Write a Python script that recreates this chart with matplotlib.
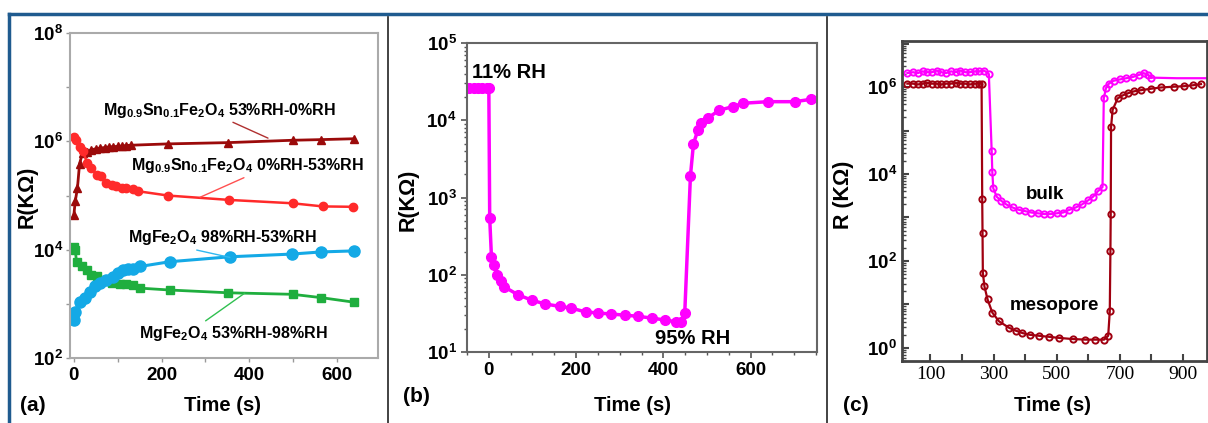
import matplotlib
matplotlib.use("Agg")
import matplotlib.pyplot as plt
from matplotlib.lines import Line2D
from matplotlib.ticker import FixedLocator, FixedFormatter, MultipleLocator

plt.rcParams["font.family"] = ["Liberation Sans", "DejaVu Sans"]
plt.rcParams["font.weight"] = "bold"
plt.rcParams["mathtext.fontset"] = "custom"
plt.rcParams["mathtext.rm"] = "Liberation Sans:bold"
plt.rcParams["mathtext.bf"] = "Liberation Sans:bold"
plt.rcParams["mathtext.default"] = "bf"

# === (a) MgFe2O4 / Mg0.9Sn0.1Fe2O4 ===
a_tri_t = [0, 3, 8, 13, 20, 30, 40, 50, 60, 70, 80, 90, 100, 110, 120, 130, 215, 352, 499, 565, 639]
a_tri_r = [4.4e4, 7.8e4, 1.35e5, 3.9e5, 6.2e5, 6.5e5, 7.0e5, 7.3e5, 7.5e5, 7.7e5, 7.9e5, 8.0e5,
           8.1e5, 8.2e5, 8.4e5, 8.5e5, 9.0e5, 9.5e5, 1.05e6, 1.08e6, 1.12e6]
a_red_t = [0, 5, 14, 21, 30, 40, 52, 63, 74, 86, 97, 109, 120, 135, 147, 215, 355, 499, 568, 636]
a_red_r = [1.2e6, 1.05e6, 8e5, 6.6e5, 4e5, 3.2e5, 2.4e5, 2.3e5, 1.7e5, 1.6e5, 1.5e5, 1.4e5,
           1.4e5, 1.3e5, 1.2e5, 1.0e5, 8.3e4, 7.2e4, 6.3e4, 6.2e4]
a_grn_t = [0, 3, 6, 18, 29, 40, 52, 67, 86, 105, 120, 135, 151, 219, 352, 499, 565, 640]
a_grn_r = [1.1e4, 1.0e4, 6.0e3, 5.1e3, 4.2e3, 3.4e3, 3.2e3, 2.8e3, 2.4e3, 2.3e3, 2.3e3, 2.2e3,
           1.95e3, 1.8e3, 1.6e3, 1.5e3, 1.3e3, 1.07e3]
a_blu_t = [0, 2, 14, 25, 37, 48, 59, 74, 90, 101, 113, 124, 135, 151, 219, 356, 497, 565, 639]
a_blu_r = [500, 720, 1100, 1260, 1660, 2100, 2400, 2750, 3150, 3700, 4200, 4400, 4400, 4900,
           6000, 7400, 8300, 9100, 9500]

# === (b) 11% RH <-> 95% RH ===
b_t = [-45, -35, -25, -15, -5, 0, 2, 6, 11, 19, 27, 35, 67, 98, 128, 162, 189, 222, 251, 281,
       312, 342, 373, 403, 430, 441, 449, 462, 469, 479, 486, 502, 528, 559, 582, 640, 701, 739]
b_r = [2.6e4, 2.6e4, 2.6e4, 2.6e4, 2.6e4, 2.6e4, 540, 170, 135, 100, 82, 70, 55, 47, 42, 39, 37,
       33, 32, 31, 30, 29, 27.5, 26, 24.6, 24.6, 32, 1900, 5000, 7400, 9100, 10700, 13500, 15000,
       16600, 17400, 17400, 18700]

# === (c) bulk vs mesopore ===
c_bulk_t = [27, 45, 60, 75, 90, 105, 120, 135, 150, 165, 180, 195, 210, 225, 240, 255, 270, 285,
            294, 296, 299, 310, 325, 340, 360, 380, 400, 420, 440, 460, 480, 500, 520, 540, 560,
            580, 600, 615, 630, 645, 649, 656, 665, 680, 700, 720, 740, 760, 775, 790, 800]
c_bulk_r = [2.1e6, 2.2e6, 2.1e6, 2.3e6, 2.2e6, 2.2e6, 2.4e6, 2.2e6, 2.1e6, 2.3e6, 2.2e6, 2.4e6,
            2.2e6, 2.2e6, 2.3e6, 2.3e6, 2.4e6, 2.0e6, 3.3e4, 1.1e4, 4.7e3, 3.0e3, 2.4e3, 2.0e3,
            1.7e3, 1.5e3, 1.4e3, 1.3e3, 1.25e3, 1.2e3, 1.2e3, 1.25e3, 1.3e3, 1.5e3, 1.7e3, 2.0e3,
            2.5e3, 3.0e3, 4.0e3, 5.0e3, 5.5e5, 9.5e5, 1.2e6, 1.4e6, 1.5e6, 1.6e6, 1.7e6, 1.9e6,
            2.1e6, 1.9e6, 1.65e6]
c_bulk_tail_t = [800, 880, 975]
c_bulk_tail_r = [1.65e6, 1.6e6, 1.6e6]
c_meso_t = [27, 45, 60, 75, 90, 105, 120, 135, 150, 165, 180, 195, 210, 225, 240, 255, 262,
            264, 265, 266, 271, 281, 296, 317, 349, 370, 391, 415, 444, 475, 507, 550, 591, 620,
            650, 663, 668, 670, 671, 672, 677, 693, 710, 725, 745, 767, 800, 830, 870, 904, 930, 957]
c_meso_r = [1.2e6, 1.2e6, 1.15e6, 1.2e6, 1.25e6, 1.2e6, 1.2e6, 1.15e6, 1.2e6, 1.2e6, 1.25e6,
            1.2e6, 1.2e6, 1.15e6, 1.2e6, 1.2e6, 1.2e6, 2.6e3, 4.4e2, 54, 26, 13, 6.5, 4.1, 2.9,
            2.5, 2.2, 2.0, 1.9, 1.8, 1.7, 1.6, 1.55, 1.55, 1.55, 1.9, 7, 170, 1.2e3, 1.2e5, 3e5,
            5.5e5, 6.5e5, 7.2e5, 8.0e5, 8.5e5, 9.2e5, 9.8e5, 1.02e6, 1.05e6, 1.1e6, 1.17e6]

fig = plt.figure(figsize=(12.08, 4.23), dpi=100)

# frame around the composite
blue = "#1f5b8f"
fig.add_artist(Line2D([0.0075, 1.0], [0.967, 0.967], color=blue, lw=2.5, transform=fig.transFigure))
fig.add_artist(Line2D([0.0075, 0.0075], [0.0, 0.967], color=blue, lw=2.5, transform=fig.transFigure))
for xd in [0.3215, 0.6845]:
    fig.add_artist(Line2D([xd, xd], [0.0, 0.96], color="#222222", lw=1.2, transform=fig.transFigure))


def log_labels(ax, exps, shown):
    ax.yaxis.set_major_locator(FixedLocator([10.0 ** e for e in exps]))
    ax.yaxis.set_major_formatter(FixedFormatter(
        [r"$\mathbf{10^{%d}}$" % e if e in shown else "" for e in exps]))


# ---------- (a) ----------
ax = fig.add_axes([0.0579, 0.1537, 0.255, 0.768])
ax.plot(a_tri_t, a_tri_r, color="#9b0a0a", marker="^", ms=6, lw=2)
ax.plot(a_red_t, a_red_r, color="#ff2a2a", marker="o", ms=6, lw=1.8)
ax.plot(a_grn_t, a_grn_r, color="#1fae3e", marker="s", ms=6, lw=2)
ax.plot(a_blu_t, a_blu_r, color="#14a9e6", marker="o", ms=8, lw=2.2)
ax.set_yscale("log")
ax.set_ylim(1e2, 1e8)
ax.set_xlim(-9, 694)
log_labels(ax, [2, 3, 4, 5, 6, 7, 8], [2, 4, 6, 8])
ax.yaxis.set_minor_locator(FixedLocator([]))
ax.xaxis.set_major_locator(MultipleLocator(200))
ax.xaxis.set_minor_locator(MultipleLocator(100))
ax.tick_params(axis="both", which="both", direction="out", length=3, color="#999999", width=1)
ax.tick_params(axis="y", which="major", pad=2)
for lab in ax.get_xticklabels() + ax.get_yticklabels():
    lab.set_fontsize(13.5)
    lab.set_fontweight("bold")
for s in ax.spines.values():
    s.set_color("#aaaaaa")
    s.set_linewidth(1.5)

ann = dict(fontsize=11.5, fontweight="bold", ha="center", va="center")
ax.annotate(r"Mg$_{0.9}$Sn$_{0.1}$Fe$_2$O$_4$ 53%RH-0%RH", xy=(443, 1.15e6), xytext=(333, 3.8e6),
            arrowprops=dict(arrowstyle="-", color="#b03030", lw=1, relpos=(0.53, 0.0),
                            shrinkA=0, shrinkB=0), **ann)
ax.annotate(r"Mg$_{0.9}$Sn$_{0.1}$Fe$_2$O$_4$ 0%RH-53%RH", xy=(288, 9.3e4), xytext=(397, 3.6e5),
            arrowprops=dict(arrowstyle="-", color="#ff5050", lw=1, relpos=(0.51, 0.0),
                            shrinkA=0, shrinkB=0), **ann)
ax.annotate(r"MgFe$_2$O$_4$ 98%RH-53%RH", xy=(356, 7.2e3), xytext=(338, 1.66e4),
            arrowprops=dict(arrowstyle="-", color="#30b8f0", lw=1, relpos=(0.3, 0.0),
                            shrinkA=0, shrinkB=0), **ann)
ax.annotate(r"MgFe$_2$O$_4$ 53%RH-98%RH", xy=(390, 1.58e3), xytext=(365, 288),
            arrowprops=dict(arrowstyle="-", color="#30c050", lw=1, relpos=(0.33, 1.0),
                            shrinkA=0, shrinkB=0), **ann)

# ---------- (b) ----------
bx = fig.add_axes([0.3866, 0.1678, 0.2897, 0.7305])
bx.plot(b_t, b_r, color="#ff00ff", marker="o", ms=7, lw=2.5)
bx.set_yscale("log")
bx.set_ylim(1e1, 1e5)
bx.set_xlim(-50, 752)
log_labels(bx, [1, 2, 3, 4, 5], [1, 2, 3, 4, 5])
bx.xaxis.set_major_locator(MultipleLocator(200))
bx.xaxis.set_minor_locator(MultipleLocator(50))
bx.tick_params(axis="both", which="both", direction="out", color="#555555")
bx.tick_params(axis="both", which="major", length=4, width=1.2)
bx.tick_params(axis="both", which="minor", length=2.5, width=1)
for lab in bx.get_xticklabels() + bx.get_yticklabels():
    lab.set_fontsize(13.5)
    lab.set_fontweight("bold")
for s in bx.spines.values():
    s.set_color("#666666")
    s.set_linewidth(1.5)
bx.text(-39, 4.1e4, "11% RH", fontsize=14.5, fontweight="bold", ha="left", va="center")
bx.text(380, 15, "95% RH", fontsize=14.5, fontweight="bold", ha="left", va="center")

# ---------- (c) ----------
cx = fig.add_axes([0.7467, 0.1466, 0.2525, 0.7565])
cx.plot(c_bulk_t, c_bulk_r, color="#ff00ff", marker="o", ms=4.5, mfc="none", mew=1.4, lw=1.6)
cx.plot(c_bulk_tail_t, c_bulk_tail_r, color="#ff00ff", lw=1.6)
cx.plot(c_meso_t, c_meso_r, color="#a00010", marker="o", ms=4.5, mfc="none", mew=1.4, lw=1.6)
cx.set_yscale("log")
cx.set_ylim(0.5, 1.15e7)
cx.set_xlim(10, 976)
log_labels(cx, [0, 1, 2, 3, 4, 5, 6, 7], [0, 2, 4, 6])
cx.yaxis.set_minor_locator(FixedLocator(
    [m * 10.0 ** e for e in range(-1, 8) for m in range(2, 10)]))
cx.yaxis.set_minor_formatter(FixedFormatter([]))
cx.xaxis.set_major_locator(MultipleLocator(200, offset=100))
cx.xaxis.set_minor_locator(MultipleLocator(100))
cx.tick_params(axis="both", which="both", direction="in", color="#444444")
cx.tick_params(axis="both", which="major", length=5, width=1.5)
cx.tick_params(axis="both", which="minor", length=3, width=1)
cx.tick_params(axis="x", which="minor", length=5, width=1.5)
for lab in cx.get_yticklabels():
    lab.set_fontsize(13.5)
    lab.set_fontweight("bold")
for lab in cx.get_xticklabels():
    lab.set_fontsize(14)
    lab.set_fontweight("normal")
    lab.set_family(["Liberation Serif", "DejaVu Serif"])
for s in cx.spines.values():
    s.set_color("#444444")
    s.set_linewidth(2)
cx.text(462, 3300, "bulk", fontsize=13.5, fontweight="bold", ha="center", va="center")
cx.text(494, 9.5, "mesopore", fontsize=13.5, fontweight="bold", ha="center", va="center")

# axis labels and panel tags
lab_kw = dict(fontsize=14.5, fontweight="bold", ha="center", va="center")
fig.text(222 / 1208, 1 - 405 / 423, "Time (s)", **lab_kw)
fig.text(633 / 1208, 1 - 405 / 423, "Time (s)", **lab_kw)
fig.text(1052 / 1208, 1 - 405 / 423, "Time (s)", **lab_kw)
ylab_kw = dict(lab_kw, fontsize=15.5)
fig.text(27 / 1208, 1 - 197 / 423, "R(KΩ)", rotation=90, **ylab_kw)
fig.text(408 / 1208, 1 - 200 / 423, "R(KΩ)", rotation=90, **ylab_kw)
fig.text(843 / 1208, 1 - 195 / 423, "R (KΩ)", rotation=90, **ylab_kw)
tag_kw = dict(fontsize=15, fontweight="bold", ha="left", va="center")
fig.text(20 / 1208, 1 - 405 / 423, "(a)", **tag_kw)
fig.text(403 / 1208, 1 - 396 / 423, "(b)", **tag_kw)
fig.text(843 / 1208, 1 - 405 / 423, "(c)", **tag_kw)

fig.savefig("out.png", dpi=100)
plt.close(fig)
